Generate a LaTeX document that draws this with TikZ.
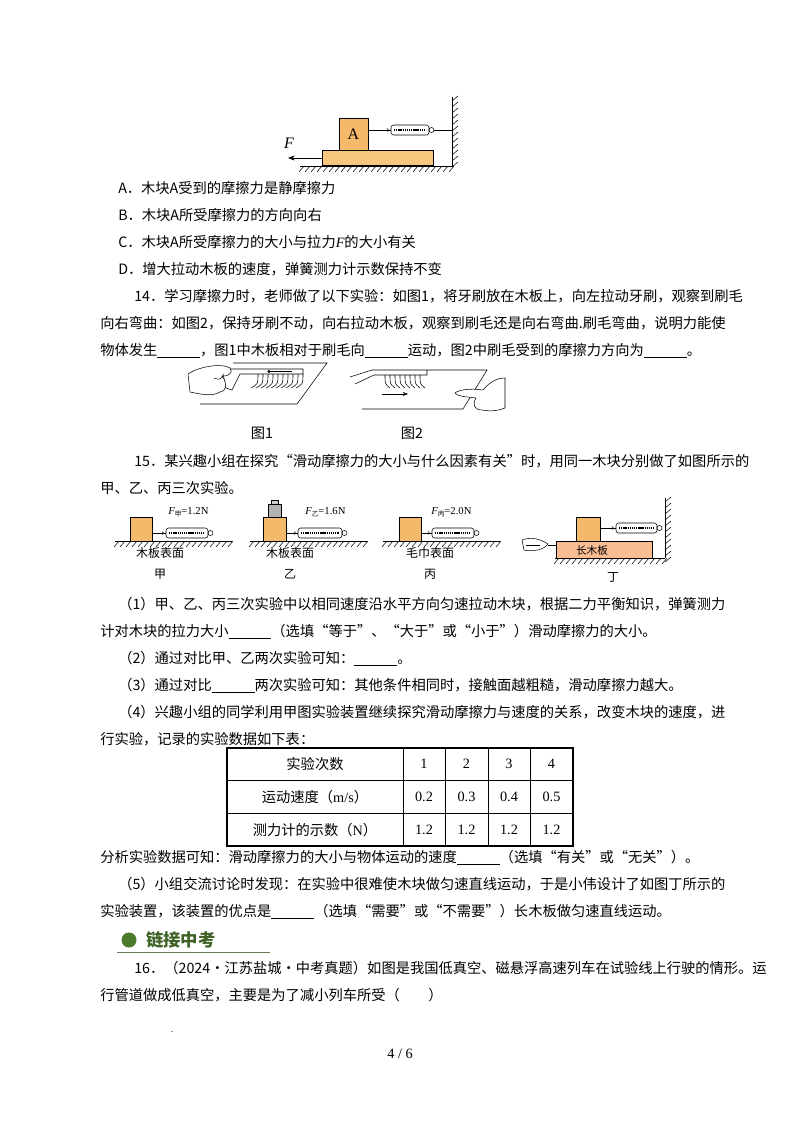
\documentclass[tikz,border=0pt]{standalone}
\usepackage{fontspec}
\setmainfont{Noto Sans CJK SC}
\newfontfamily\lat{Liberation Serif}
\usetikzlibrary{arrows.meta}
\definecolor{blockc}{HTML}{F5B96A}
\definecolor{plankc}{HTML}{F5C77E}
\definecolor{hgreen}{HTML}{4E7A2E}
\newcommand\blank{\underline{\hspace{3em}}}
\newcommand\hatchH[3]{% x1 x2 y
  \draw[thin] (#1,#3)--(#2,#3);
  \pgfmathtruncatemacro\nn{(#2-#1)/6}
  \foreach \i in {0,...,\nn}{\draw[thin] ({#1+\i*6+4},#3)--++(-5,6);}}
\newcommand\hatchV[3]{% x y1 y2
  \draw[thin] (#1,#2)--(#1,#3);
  \pgfmathtruncatemacro\nn{(#3-#2)/6}
  \foreach \i in {0,...,\nn}{\draw[thin] (#1,{#2+\i*6+4})--++(6,-5);}}
\newcommand\spring[3]{% x1 x2 y
  \draw[rounded corners=2pt,fill=white] (#1+6,#3-5) rectangle (#2-5,#3+5);
  \draw[line width=1.6pt,dash pattern=on 1pt off 0.6pt] (#1+9,#3)--(#2-8,#3);
  \draw (#2-2.5,#3) circle (2.5);
  \draw (#1+1,#3) -- (#1+6,#3);
  \draw (#1+2,#3-1.5) arc (90:270:-1.5);}
\tikzset{txt/.style={anchor=base west,inner sep=0pt},
  ctr/.style={anchor=base,inner sep=0pt},
  blk/.style={draw,fill=blockc},
  cell/.style={anchor=center,inner sep=0pt}}
\begin{document}
\begin{tikzpicture}[x=0.75pt,y=-0.75pt,font=\fontsize{10.7}{12}\selectfont]
\useasboundingbox[fill=white] (0,0) rectangle (800,1132);
% ---- top figure
\hatchH{300}{452}{166}
\draw[fill=plankc] (322,150) rectangle (433,165);
\draw[blk] (339,118) rectangle (368,150);
\node[inner sep=0] (Alab) at (353.5,134) {\lat\fontsize{12}{12}\selectfont A};
\draw (368,130)--(391,130);
\spring{385}{434}{130}
\draw (434,130)--(452,130);
\hatchV{452}{97}{166}
\coordinate (Fs) at (322,158); \coordinate (Fe) at (288,158);
\draw[-{Stealth[length=5pt]}] (Fs)--(Fe);
\node (F) at (289,143) {\lat\itshape\fontsize{12}{12}\selectfont F};
% ---- options
\node[txt] (oa) at (118,193) {A．木块A受到的摩擦力是静摩擦力};
\node[txt] (ob) at (118,220) {B．木块A所受摩擦力的方向向右};
\node[txt] (oc) at (118,247) {C．木块A所受摩擦力的大小与拉力{\lat\itshape F}的大小有关};
\node[txt] (od) at (118,274) {D．增大拉动木板的速度，弹簧测力计示数保持不变};
\node[txt] (q14a) at (134,301) {14．学习摩擦力时，老师做了以下实验：如图1，将牙刷放在木板上，向左拉动牙刷，观察到刷毛};
\node[txt] (q14b) at (100,328) {向右弯曲：如图2，保持牙刷不动，向右拉动木板，观察到刷毛还是向右弯曲.刷毛弯曲，说明力能使};
\node[txt] (q14c) at (100,355) {物体发生\blank{}，图1中木板相对于刷毛向\blank{}运动，图2中刷毛受到的摩擦力方向为\blank{}。};
% ---- fig 1
\draw (233,363)--(327,363)--(297,404)--(200,404);
\foreach \x in {258,263,...,305}{\draw[thin] (\x,374) .. controls (\x,384) .. (\x-7,388);}
\draw[fill=white] (222,369)--(303,369)--(303,374)--(240,374)--(232,390)--(226,388)--cycle;
\draw[line width=1.4pt] (268,371.5)--(292,371.5);
\fill (269,371.5) circle (1.6);
\draw[fill=white] (188,374) .. controls (200,366) and (222,363) .. (230,368)
  .. controls (234,372) and (228,377) .. (222,376)
  .. controls (228,384) and (226,392) .. (220,392)
  .. controls (212,397) and (200,394) .. (190,392) -- cycle;
\draw[thin] (214,378) .. controls (220,380) .. (224,374);
\node[ctr] (t1) at (262,438) {图1};
% ---- fig 2
\draw (350,377)--(372,370)--(427,370);
\draw (355,384)--(374,375)--(427,375)--(427,370);
\draw (427,370)--(487,370)--(463,409)--(362,409);
\foreach \x in {385,390,...,424}{\draw[thin] (\x,375) .. controls (\x,384) .. (\x+5,388);}
\draw[-{Stealth[length=4pt]}] (382,394)--(408,394);
\draw[fill=white] (505,378) .. controls (495,378) and (488,384) .. (483,390)
  .. controls (470,388) and (458,390) .. (455,393)
  .. controls (458,397) and (470,397) .. (476,398)
  .. controls (472,404) and (474,410) .. (482,410)
  .. controls (492,412) and (500,410) .. (505,408) -- cycle;
\node[ctr] (t2) at (412,438) {图2};
% ---- Q15
\node[txt] (q15a) at (134,466) {15．某兴趣小组在探究“滑动摩擦力的大小与什么因素有关”时，用同一木块分别做了如图所示的};
\node[txt] (q15b) at (100,493) {甲、乙、丙三次实验。};
% 甲
\hatchH{115}{232}{541}
\draw[blk] (130,517) rectangle (152,541);
\draw (152,533)--(162,533);
\spring{160}{213}{533}
\node[txt] (l1) at (168,514) {\fontsize{8}{8}\selectfont{\lat\itshape F}\raisebox{-2pt}{\fontsize{5}{5}\selectfont 甲}{\lat =1.2N}};
\node[ctr] (s1) at (160,557) {\fontsize{9}{9}\selectfont 木板表面};
\node[ctr] (c1) at (160,578) {\fontsize{9}{9}\selectfont 甲};
% 乙
\hatchH{250}{367}{541}
\draw[blk] (263,517) rectangle (286,541);
\draw[fill=gray!60] (268,504) rectangle (281,517);
\draw[fill=gray!40] (271,500) rectangle (278,504);
\draw (286,533)--(294,533);
\spring{292}{347}{533}
\node[txt] (l2) at (305,514) {\fontsize{8}{8}\selectfont{\lat\itshape F}\raisebox{-2pt}{\fontsize{5}{5}\selectfont 乙}{\lat =1.6N}};
\node[ctr] (s2) at (290,557) {\fontsize{9}{9}\selectfont 木板表面};
\node[ctr] (c2) at (290,578) {\fontsize{9}{9}\selectfont 乙};
% 丙
\hatchH{383}{500}{541}
\draw[blk] (399,517) rectangle (421,541);
\draw (421,533)--(428,533);
\spring{426}{479}{533}
\node[txt] (l3) at (431,514) {\fontsize{8}{8}\selectfont{\lat\itshape F}\raisebox{-2pt}{\fontsize{5}{5}\selectfont 丙}{\lat =2.0N}};
\node[ctr] (s3) at (430,557) {\fontsize{9}{9}\selectfont 毛巾表面};
\node[ctr] (c3) at (430,578) {\fontsize{9}{9}\selectfont 丙};
% 丁
\hatchH{555}{665}{558}
\draw[fill=plankc!80!red!70!white] (556,541) rectangle (652,558);
\node[cell] (s4) at (592,550) {\fontsize{8}{8}\selectfont 长木板};
\draw[blk] (576,517) rectangle (600,541);
\draw (600,528)--(612,528);
\spring{610}{662}{528}
\hatchV{665}{498}{558}
\draw (548,545)--(556,545);
\draw[fill=white] (522,540) .. controls (532,536) and (542,540) .. (548,544)
  .. controls (544,550) and (532,552) .. (524,550) -- cycle;
\draw[thin] (526,545)--(540,545);
\node[ctr] (c4) at (613,581) {\fontsize{9}{9}\selectfont 丁};
% ---- sub questions
\node[txt] (p1a) at (118,609) {（1）甲、乙、丙三次实验中以相同速度沿水平方向匀速拉动木块，根据二力平衡知识，弹簧测力};
\node[txt] (p1b) at (100,636) {计对木块的拉力大小\blank{}（选填“等于”、“大于”或“小于”）滑动摩擦力的大小。};
\node[txt] (p2) at (118,663) {（2）通过对比甲、乙两次实验可知：\blank{}。};
\node[txt] (p3) at (118,690) {（3）通过对比\blank{}两次实验可知：其他条件相同时，接触面越粗糙，滑动摩擦力越大。};
\node[txt] (p4a) at (118,717) {（4）兴趣小组的同学利用甲图实验装置继续探究滑动摩擦力与速度的关系，改变木块的速度，进};
\node[txt] (p4b) at (100,744) {行实验，记录的实验数据如下表：};
% ---- table
\draw[thick] (227,748) rectangle (573,846);
\foreach \y in {780,813}{\draw (227,\y)--(573,\y);}
\foreach \x in {403,445,488,530}{\draw (\x,748)--(\x,846);}
\node[cell] (h0) at (315,764) {实验次数};
\node[cell] (r1) at (315,797) {运动速度（{\lat m/s}）};
\node[cell] (r2) at (315,830) {测力计的示数（{\lat N}）};
\foreach \x/\a/\b/\c in {424/1/0.2/1.2,466.5/2/0.3/1.2,509/3/0.4/1.2,551.5/4/0.5/1.2}{
  \node[cell] at (\x,764) {\lat\a};
  \node[cell] at (\x,797) {\lat\b};
  \node[cell] at (\x,830) {\lat\c};}
\node[txt] (an) at (100,862) {分析实验数据可知：滑动摩擦力的大小与物体运动的速度\blank{}（选填“有关”或“无关”）。};
\node[txt] (p5a) at (118,889) {（5）小组交流讨论时发现：在实验中很难使木块做匀速直线运动，于是小伟设计了如图丁所示的};
\node[txt] (p5b) at (100,916) {实验装置，该装置的优点是\blank{}（选填“需要”或“不需要”）长木板做匀速直线运动。};
% ---- header
\fill[hgreen] (129,940) circle (7.5);
\node[txt,text=hgreen!80!black] (hd) at (146,946) {\fontsize{13}{13}\selectfont\bfseries 链接中考};
\draw[hgreen!60!gray] (117,952)--(270,952);
\node[txt] (q16a) at (134,973) {16．（2024·江苏盐城·中考真题）如图是我国低真空、磁悬浮高速列车在试验线上行驶的情形。运};
\node[txt] (q16b) at (100,1000) {行管道做成低真空，主要是为了减小列车所受（　　）};
\node[ctr] (dot) at (172,1032) {\fontsize{6}{6}\selectfont .};
\node[ctr] (pg) at (400,1058) {\lat 4 / 6};
\end{tikzpicture}
\end{document}
